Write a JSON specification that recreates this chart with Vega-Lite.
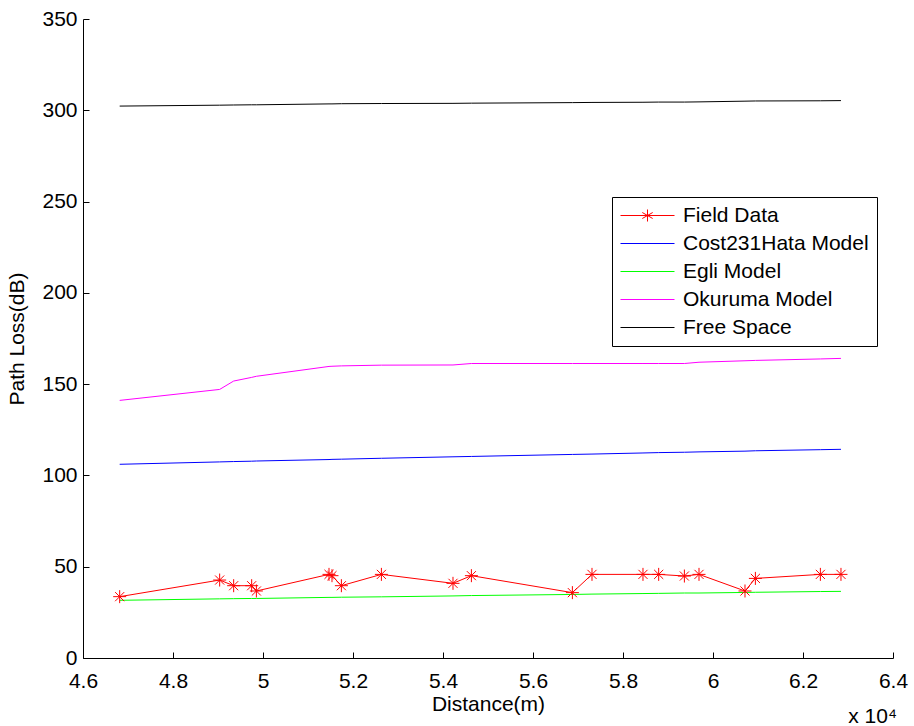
{
  "$schema": "https://vega.github.io/schema/vega-lite/v6.json",
  "width": 810,
  "height": 639,
  "autosize": {"type": "none"},
  "padding": {"left": 83, "top": 19, "right": 21, "bottom": 68},
  "background": "white",
  "config": {
    "view": {"stroke": null},
    "font": "Liberation Sans",
    "axis": {
      "grid": false,
      "domainColor": "black",
      "tickColor": "black",
      "labelColor": "black",
      "titleColor": "black",
      "labelFontSize": 21,
      "titleFontSize": 21,
      "titleFontWeight": "normal",
      "tickSize": -6,
      "labelFont": "Liberation Sans",
      "titleFont": "Liberation Sans"
    }
  },
  "title": {
    "text": "x 10⁴",
    "orient": "bottom",
    "anchor": "end",
    "frame": "group",
    "fontSize": 21,
    "fontWeight": "normal",
    "font": "Liberation Sans",
    "color": "black",
    "offset": -8,
    "dx": 4
  },
  "data": {
    "values": [
      {"d": 46815, "Field Data": 33.6, "Cost231Hata Model": 106.1, "Egli Model": 31.6, "Okuruma Model": 141.1, "Free Space": 302.3},
      {"d": 49037, "Field Data": 42.7, "Cost231Hata Model": 107.4, "Egli Model": 32.4, "Okuruma Model": 147.1, "Free Space": 302.8},
      {"d": 49348, "Field Data": 39.6, "Cost231Hata Model": 107.6, "Egli Model": 32.5, "Okuruma Model": 151.7, "Free Space": 302.9},
      {"d": 49748, "Field Data": 39.6, "Cost231Hata Model": 107.8, "Egli Model": 32.6, "Okuruma Model": 153.7, "Free Space": 303.0},
      {"d": 49853, "Field Data": 36.7, "Cost231Hata Model": 107.9, "Egli Model": 32.6, "Okuruma Model": 154.3, "Free Space": 303.0},
      {"d": 51467, "Field Data": 45.8, "Cost231Hata Model": 108.7, "Egli Model": 33.2, "Okuruma Model": 159.7, "Free Space": 303.5},
      {"d": 51533, "Field Data": 45.1, "Cost231Hata Model": 108.8, "Egli Model": 33.2, "Okuruma Model": 159.8, "Free Space": 303.5},
      {"d": 51742, "Field Data": 39.6, "Cost231Hata Model": 108.9, "Egli Model": 33.3, "Okuruma Model": 160.0, "Free Space": 303.6},
      {"d": 52631, "Field Data": 45.8, "Cost231Hata Model": 109.4, "Egli Model": 33.5, "Okuruma Model": 160.4, "Free Space": 303.7},
      {"d": 54222, "Field Data": 40.9, "Cost231Hata Model": 110.2, "Egli Model": 34.0, "Okuruma Model": 160.5, "Free Space": 303.8},
      {"d": 54631, "Field Data": 45.1, "Cost231Hata Model": 110.4, "Egli Model": 34.2, "Okuruma Model": 161.3, "Free Space": 303.9},
      {"d": 56875, "Field Data": 35.8, "Cost231Hata Model": 111.5, "Egli Model": 34.8, "Okuruma Model": 161.3, "Free Space": 304.2},
      {"d": 57311, "Field Data": 45.8, "Cost231Hata Model": 111.7, "Egli Model": 35.0, "Okuruma Model": 161.3, "Free Space": 304.3},
      {"d": 58444, "Field Data": 45.8, "Cost231Hata Model": 112.3, "Egli Model": 35.3, "Okuruma Model": 161.3, "Free Space": 304.4},
      {"d": 58793, "Field Data": 45.8, "Cost231Hata Model": 112.5, "Egli Model": 35.4, "Okuruma Model": 161.3, "Free Space": 304.5},
      {"d": 59364, "Field Data": 44.9, "Cost231Hata Model": 112.7, "Egli Model": 35.6, "Okuruma Model": 161.3, "Free Space": 304.5},
      {"d": 59689, "Field Data": 45.8, "Cost231Hata Model": 112.9, "Egli Model": 35.6, "Okuruma Model": 162.0, "Free Space": 304.6},
      {"d": 60711, "Field Data": 36.7, "Cost231Hata Model": 113.3, "Egli Model": 35.9, "Okuruma Model": 162.8, "Free Space": 305.0},
      {"d": 60942, "Field Data": 43.6, "Cost231Hata Model": 113.5, "Egli Model": 36.0, "Okuruma Model": 163.0, "Free Space": 305.1},
      {"d": 62386, "Field Data": 45.8, "Cost231Hata Model": 114.1, "Egli Model": 36.4, "Okuruma Model": 163.8, "Free Space": 305.2},
      {"d": 62844, "Field Data": 45.8, "Cost231Hata Model": 114.3, "Egli Model": 36.5, "Okuruma Model": 164.1, "Free Space": 305.3}
    ]
  },
  "transform": [
    {"fold": ["Field Data", "Cost231Hata Model", "Egli Model", "Okuruma Model", "Free Space"], "as": ["series", "loss"]}
  ],
  "encoding": {
    "x": {
      "field": "d",
      "type": "quantitative",
      "scale": {"domain": [46000, 64000], "nice": false, "zero": false},
      "axis": {
        "title": "Distance(m)",
        "values": [46000, 48000, 50000, 52000, 54000, 56000, 58000, 60000, 62000, 64000],
        "labelExpr": "datum.value / 10000",
        "labelPadding": 18,
        "titlePadding": 2,
        "labelFlush": false,
        "labelOverlap": false
      }
    },
    "y": {
      "field": "loss",
      "type": "quantitative",
      "scale": {"domain": [0, 350], "nice": false},
      "axis": {
        "title": "Path Loss(dB)",
        "values": [0, 50, 100, 150, 200, 250, 300, 350],
        "labelPadding": 12,
        "titlePadding": 14,
        "labelFlush": false,
        "labelOverlap": false
      }
    }
  },
  "layer": [
    {
      "mark": {"type": "line", "strokeWidth": 1},
      "encoding": {
        "color": {
          "field": "series",
          "type": "nominal",
          "scale": {
            "domain": ["Field Data", "Cost231Hata Model", "Egli Model", "Okuruma Model", "Free Space"],
            "range": ["#ff0000", "#0000ff", "#00ff00", "#ff00ff", "#000000"]
          },
          "legend": {
            "title": null,
            "orient": "none",
            "legendX": 529,
            "legendY": 178,
            "strokeColor": "black",
            "fillColor": "white",
            "padding": 8,
            "symbolType": "stroke",
            "symbolSize": 400,
            "symbolOffset": 17,
            "symbolStrokeWidth": 1,
            "labelFontSize": 21,
            "labelColor": "black",
            "labelFont": "Liberation Sans",
            "labelLimit": 300,
            "labelOffset": 25,
            "rowPadding": 6,
            "encode": {
              "symbols": {
                "update": {
                  "shape": {"signal": "datum.value === 'Field Data' ? 'M-2.7,0H2.7M0,-0.6V0.6M-0.52,-0.3L0.52,0.3M-0.52,0.3L0.52,-0.3M-0.6,0H0.6' : 'M-2.7,0H2.7'"},
                  "stroke": {"scale": "color", "field": "value"},
                  "strokeOpacity": {"value": 1},
                  "opacity": {"value": 1}
                }
              }
            }
          }
        },
        "order": {"field": "d", "type": "quantitative"}
      }
    },
    {
      "transform": [{"filter": "datum.series === 'Field Data'"}],
      "mark": {
        "type": "point",
        "shape": "M-1,0H1M0,-1V1M-0.7,-0.7L0.7,0.7M-0.7,0.7L0.7,-0.7",
        "size": 169,
        "filled": false,
        "stroke": "#ff0000",
        "strokeWidth": 1,
        "opacity": 1
      }
    }
  ]
}
